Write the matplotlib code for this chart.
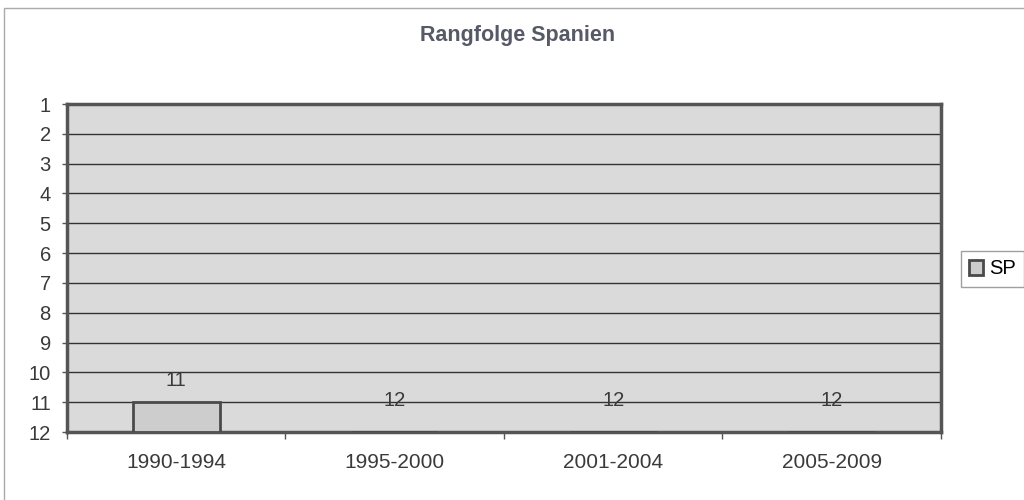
import matplotlib
matplotlib.use("Agg")
import matplotlib.pyplot as plt
from matplotlib.patches import Rectangle

categories = ["1990-1994", "1995-2000", "2001-2004", "2005-2009"]
ranks_sp = [11, 12, 12, 12]
series_name = "SP"
title = "Rangfolge Spanien"
y_ticks = list(range(1, 13))

plt.rcParams['font.family'] = ['Liberation Sans', 'DejaVu Sans']

fig = plt.figure(figsize=(10.24, 5.0), dpi=100)
fig.patch.set_facecolor('white')
ax = fig.add_axes([0.0654, 0.136, 0.8535, 0.656])
ax.set_facecolor('#dadada')

x = list(range(len(categories)))
base = 12
heights = [v - base for v in ranks_sp]
bars = ax.bar(x, heights, bottom=base, width=0.4, color='#cdcdcd',
              edgecolor='#4a4a4a', linewidth=2.0, label=series_name, zorder=3)

ax.set_xlim(-0.5, len(categories) - 0.5)
ax.set_ylim(12, 1)
ax.set_yticks(y_ticks)
ax.set_yticklabels([str(t) for t in y_ticks], fontsize=14.5, color='#3a3a3a')
ax.yaxis.grid(True, color='#333333', linewidth=1.0, zorder=1)
ax.set_axisbelow(True)

ax.set_xticks(x)
ax.set_xticklabels(categories, fontsize=15, color='#3a3a3a')
ax.tick_params(axis='x', length=0, pad=15)
ax.set_xticks([i - 0.5 for i in range(len(categories) + 1)], minor=True)
ax.tick_params(axis='x', which='minor', length=5, color='#555555', width=1)
ax.tick_params(axis='y', length=3.6, color='#555555', width=1, pad=8)

for s in ax.spines.values():
    s.set_color('#555555')
    s.set_linewidth(2.5)

for xi, v in zip(x, ranks_sp):
    off = 22 if v != base else 32
    ax.annotate(str(v), (xi, v), xytext=(0, off), textcoords='offset pixels',
                ha='center', va='center', fontsize=14.5, color='#3a3a3a', zorder=4)

fig.text(0.505, 0.928, title, ha='center', va='center', fontsize=15.5,
         fontweight='bold', color='#555a66')

leg = fig.legend(handles=[bars], labels=[series_name], loc='center',
                 bbox_to_anchor=(0.969, 0.462), fontsize=14.5, frameon=True,
                 fancybox=False, handlelength=0.7, handleheight=0.7,
                 handletextpad=0.3, borderpad=0.4, edgecolor='#888888')
leg.get_frame().set_linewidth(1.0)

fig.patches.append(Rectangle((0.004, -0.1), 1.2, 1.084, transform=fig.transFigure,
                             fill=False, edgecolor='#aaaaaa', linewidth=1.0))

fig.savefig('out.png', dpi=100)
